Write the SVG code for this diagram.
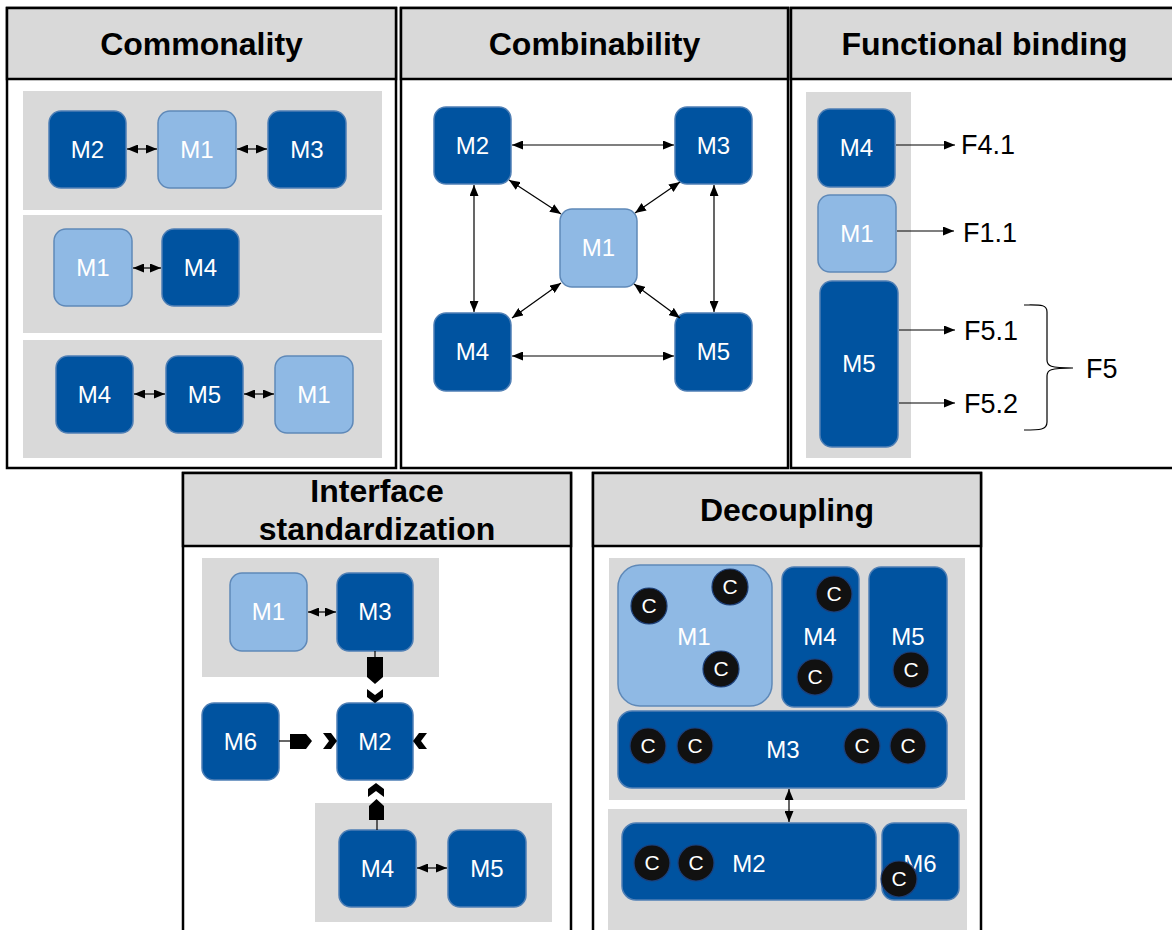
<svg xmlns="http://www.w3.org/2000/svg" width="1172" height="930" viewBox="0 0 1172 930">
<defs>
<marker id="ah" markerUnits="userSpaceOnUse" markerWidth="11" markerHeight="9" refX="11" refY="4.5" orient="auto-start-reverse"><path d="M0,0 L11,4.5 L0,9 z" fill="#000"/></marker>
<style>
.panel{fill:#fff;stroke:#000;stroke-width:2.5}
.head{fill:#d9d9d9;stroke:#000;stroke-width:2.5}
.title{font-family:"Liberation Sans",Arial,sans-serif;font-weight:bold;font-size:32px;fill:#000;text-anchor:middle}
.band{fill:#d9d9d9}
.dk{fill:#0053a0;stroke:#4f7fb5;stroke-width:1.5}
.lt{fill:#8fb9e4;stroke:#5f89b8;stroke-width:1.5}
.lbl{font-family:"Liberation Sans",Arial,sans-serif;font-size:24px;fill:#fff;text-anchor:middle}
.ftxt{font-family:"Liberation Sans",Arial,sans-serif;font-size:27px;fill:#000}
.cn{stroke:#000;stroke-width:1.2;fill:none}
.cc{fill:#111;stroke:#1d3f78;stroke-width:1.2}
.ct{font-family:"Liberation Sans",Arial,sans-serif;font-size:21px;fill:#fff;text-anchor:middle}
.sym{fill:#000}
</style>
</defs>
<rect width="1172" height="930" fill="#fff"/>

<!-- Panels -->
<g id="panel-commonality">
<rect class="panel" x="7" y="8" width="389" height="460"/>
<rect class="head" x="7" y="8" width="389" height="71"/>
<text class="title" x="201.5" y="55">Commonality</text>
<rect class="band" x="23" y="91" width="359" height="119"/>
<rect class="band" x="23" y="215" width="359" height="118"/>
<rect class="band" x="23" y="340" width="359" height="118"/>
</g>
<g id="panel-combinability">
<rect class="panel" x="401" y="8" width="387" height="460"/>
<rect class="head" x="401" y="8" width="387" height="71"/>
<text class="title" x="594.5" y="55">Combinability</text>
</g>
<g id="panel-functional">
<rect class="panel" x="791" y="8" width="387" height="460"/>
<rect class="head" x="791" y="8" width="387" height="71"/>
<text class="title" x="984.5" y="55">Functional binding</text>
<rect class="band" x="806" y="92" width="105" height="366"/>
</g>
<g id="panel-interface">
<rect class="panel" x="183" y="473" width="388" height="465"/>
<rect class="head" x="183" y="473" width="388" height="73"/>
<text class="title" x="377" y="502">Interface</text>
<text class="title" x="377" y="540">standardization</text>
<rect class="band" x="202" y="558" width="237" height="119"/>
<rect class="band" x="315" y="803" width="237" height="119"/>
</g>
<g id="panel-decoupling">
<rect class="panel" x="593" y="473" width="388" height="465"/>
<rect class="head" x="593" y="473" width="388" height="73"/>
<text class="title" x="787" y="521">Decoupling</text>
<rect class="band" x="609" y="558" width="356" height="242"/>
<rect class="band" x="608" y="809" width="359" height="121"/>
</g>

<!-- Commonality nodes -->
<g id="c1-M2"><rect class="dk" x="49" y="111" width="77" height="77" rx="12"/><text class="lbl" x="87.5" y="158">M2</text></g>
<g id="c1-M1"><rect class="lt" x="158" y="111" width="78" height="77" rx="12"/><text class="lbl" x="197" y="158">M1</text></g>
<g id="c1-M3"><rect class="dk" x="268" y="111" width="78" height="77" rx="12"/><text class="lbl" x="307" y="158">M3</text></g>
<g id="c2-M1"><rect class="lt" x="54" y="229" width="78" height="77" rx="12"/><text class="lbl" x="93" y="276">M1</text></g>
<g id="c2-M4"><rect class="dk" x="162" y="229" width="77" height="77" rx="12"/><text class="lbl" x="200.5" y="276">M4</text></g>
<g id="c3-M4"><rect class="dk" x="56" y="356" width="77" height="77" rx="12"/><text class="lbl" x="94.5" y="403">M4</text></g>
<g id="c3-M5"><rect class="dk" x="166" y="356" width="77" height="77" rx="12"/><text class="lbl" x="204.5" y="403">M5</text></g>
<g id="c3-M1"><rect class="lt" x="275" y="356" width="78" height="77" rx="12"/><text class="lbl" x="314" y="403">M1</text></g>

<!-- Combinability nodes -->
<g id="cb-M2"><rect class="dk" x="434" y="107" width="77" height="77" rx="12"/><text class="lbl" x="472.5" y="154">M2</text></g>
<g id="cb-M3"><rect class="dk" x="675" y="107" width="77" height="77" rx="12"/><text class="lbl" x="713.5" y="154">M3</text></g>
<g id="cb-M1"><rect class="lt" x="560" y="209" width="77" height="78" rx="12"/><text class="lbl" x="598.5" y="256">M1</text></g>
<g id="cb-M4"><rect class="dk" x="434" y="313" width="77" height="78" rx="12"/><text class="lbl" x="472.5" y="360">M4</text></g>
<g id="cb-M5"><rect class="dk" x="675" y="313" width="77" height="78" rx="12"/><text class="lbl" x="713.5" y="360">M5</text></g>

<!-- Functional binding nodes -->
<g id="fb-M4"><rect class="dk" x="818" y="109" width="77" height="78" rx="12"/><text class="lbl" x="856.5" y="156">M4</text></g>
<g id="fb-M1"><rect class="lt" x="818" y="195" width="78" height="77" rx="12"/><text class="lbl" x="857" y="242">M1</text></g>
<g id="fb-M5"><rect class="dk" x="820" y="281" width="78" height="166" rx="12"/><text class="lbl" x="859" y="372">M5</text></g>
<g id="fb-labels">
<text class="ftxt" x="961" y="154">F4.1</text>
<text class="ftxt" x="963" y="242">F1.1</text>
<text class="ftxt" x="964" y="340">F5.1</text>
<text class="ftxt" x="964" y="413">F5.2</text>
<text class="ftxt" x="1086" y="378">F5</text>
</g>

<!-- Interface standardization nodes -->
<g id="is-M1"><rect class="lt" x="230" y="573" width="77" height="78" rx="12"/><text class="lbl" x="268.5" y="620">M1</text></g>
<g id="is-M3"><rect class="dk" x="337" y="573" width="76" height="78" rx="12"/><text class="lbl" x="375" y="620">M3</text></g>
<g id="is-M6"><rect class="dk" x="202" y="703" width="77" height="77" rx="12"/><text class="lbl" x="240.5" y="750">M6</text></g>
<g id="is-M2"><rect class="dk" x="337" y="703" width="76" height="77" rx="12"/><text class="lbl" x="375" y="750">M2</text></g>
<g id="is-M4"><rect class="dk" x="339" y="830" width="77" height="77" rx="12"/><text class="lbl" x="377.5" y="877">M4</text></g>
<g id="is-M5"><rect class="dk" x="448" y="830" width="78" height="77" rx="12"/><text class="lbl" x="487" y="877">M5</text></g>

<!-- Decoupling nodes -->
<g id="dc-M1"><rect class="lt" x="618" y="565" width="154" height="141" rx="22"/><text class="lbl" x="694" y="645">M1</text>
<circle class="cc" cx="649" cy="606" r="18"/><text class="ct" x="649" y="613">C</text>
<circle class="cc" cx="730" cy="587" r="18"/><text class="ct" x="730" y="594">C</text>
<circle class="cc" cx="721" cy="669" r="18"/><text class="ct" x="721" y="676">C</text></g>
<g id="dc-M4"><rect class="dk" x="782" y="567" width="77" height="140" rx="12"/><text class="lbl" x="820" y="645">M4</text>
<circle class="cc" cx="834" cy="594" r="18" stroke="none"/><text class="ct" x="834" y="601">C</text>
<circle class="cc" cx="815" cy="677" r="18" stroke="none"/><text class="ct" x="815" y="684">C</text></g>
<g id="dc-M5"><rect class="dk" x="869" y="567" width="78" height="140" rx="12"/><text class="lbl" x="908" y="645">M5</text>
<circle class="cc" cx="911" cy="670" r="18" stroke="none"/><text class="ct" x="911" y="677">C</text></g>
<g id="dc-M3"><rect class="dk" x="618" y="711" width="329" height="77" rx="14"/><text class="lbl" x="783" y="758">M3</text>
<circle class="cc" cx="648" cy="746" r="18" stroke="none"/><text class="ct" x="648" y="753">C</text>
<circle class="cc" cx="695" cy="746" r="18" stroke="none"/><text class="ct" x="695" y="753">C</text>
<circle class="cc" cx="862" cy="746" r="18" stroke="none"/><text class="ct" x="862" y="753">C</text>
<circle class="cc" cx="908" cy="746" r="18" stroke="none"/><text class="ct" x="908" y="753">C</text></g>
<g id="dc-M2"><rect class="dk" x="622" y="823" width="254" height="77" rx="14"/><text class="lbl" x="749" y="872">M2</text>
<circle class="cc" cx="652" cy="863" r="18" stroke="none"/><text class="ct" x="652" y="870">C</text>
<circle class="cc" cx="696" cy="863" r="18" stroke="none"/><text class="ct" x="696" y="870">C</text></g>
<g id="dc-M6"><rect class="dk" x="882" y="823" width="77" height="77" rx="12"/><text class="lbl" x="920" y="872">M6</text>
<circle class="cc" cx="899" cy="879" r="18" stroke="none"/><text class="ct" x="899" y="886">C</text></g>

<!-- Connectors -->
<g id="connectors">
<line class="cn" x1="127" y1="149" x2="157" y2="149" marker-start="url(#ah)" marker-end="url(#ah)"/>
<line class="cn" x1="237" y1="149" x2="267" y2="149" marker-start="url(#ah)" marker-end="url(#ah)"/>
<line class="cn" x1="133" y1="268" x2="161" y2="268" marker-start="url(#ah)" marker-end="url(#ah)"/>
<line class="cn" x1="134" y1="394" x2="165" y2="394" marker-start="url(#ah)" marker-end="url(#ah)"/>
<line class="cn" x1="244" y1="394" x2="274" y2="394" marker-start="url(#ah)" marker-end="url(#ah)"/>

<line class="cn" x1="512" y1="145" x2="674" y2="145" marker-start="url(#ah)" marker-end="url(#ah)"/>
<line class="cn" x1="512" y1="356" x2="674" y2="356" marker-start="url(#ah)" marker-end="url(#ah)"/>
<line class="cn" x1="474" y1="185" x2="474" y2="312" marker-start="url(#ah)" marker-end="url(#ah)"/>
<line class="cn" x1="714" y1="185" x2="714" y2="312" marker-start="url(#ah)" marker-end="url(#ah)"/>
<line class="cn" x1="509" y1="180" x2="561" y2="214" marker-start="url(#ah)" marker-end="url(#ah)"/>
<line class="cn" x1="680" y1="182" x2="635" y2="213" marker-start="url(#ah)" marker-end="url(#ah)"/>
<line class="cn" x1="561" y1="283" x2="512" y2="318" marker-start="url(#ah)" marker-end="url(#ah)"/>
<line class="cn" x1="634" y1="284" x2="680" y2="318" marker-start="url(#ah)" marker-end="url(#ah)"/>

<line class="cn" x1="896" y1="145" x2="955" y2="145" marker-end="url(#ah)"/>
<line class="cn" x1="897" y1="231" x2="954" y2="231" marker-end="url(#ah)"/>
<line class="cn" x1="899" y1="330" x2="955" y2="330" marker-end="url(#ah)"/>
<line class="cn" x1="899" y1="403" x2="955" y2="403" marker-end="url(#ah)"/>
<path class="cn" d="M1024,305 C1040,305 1047,304 1047,312 L1047,360 C1047,366 1050,368 1073,368 C1050,368 1047,370 1047,376 L1047,422 C1047,430 1040,430 1024,430"/>

<line class="cn" x1="308" y1="612" x2="336" y2="612" marker-start="url(#ah)" marker-end="url(#ah)"/>
<line class="cn" x1="417" y1="868" x2="447" y2="868" marker-start="url(#ah)" marker-end="url(#ah)"/>
<line class="cn" x1="375" y1="651" x2="375" y2="658"/>
<polygon class="sym" points="367,657 383,657 383,677 375,684 367,677"/>
<polygon class="sym" points="367,689 375,695 383,689 383,697 375,703 367,697"/>
<line class="cn" x1="279" y1="741" x2="291" y2="741"/>
<polygon class="sym" points="290,734 306,734 312,741 306,749 290,749"/>
<polygon class="sym" points="323,733 331,733 337,741 331,749 323,749 329,741"/>
<polygon class="sym" points="427,733 419,733 413,741 419,749 427,749 421,741"/>
<polygon class="sym" points="368,797 368,789 376,783 384,789 384,797 376,791"/>
<polygon class="sym" points="369,820 369,806 376.5,799 384,806 384,820"/>
<line class="cn" x1="377" y1="819" x2="377" y2="830"/>

<line class="cn" x1="789" y1="789" x2="789" y2="822" marker-start="url(#ah)" marker-end="url(#ah)"/>
</g>
</svg>
